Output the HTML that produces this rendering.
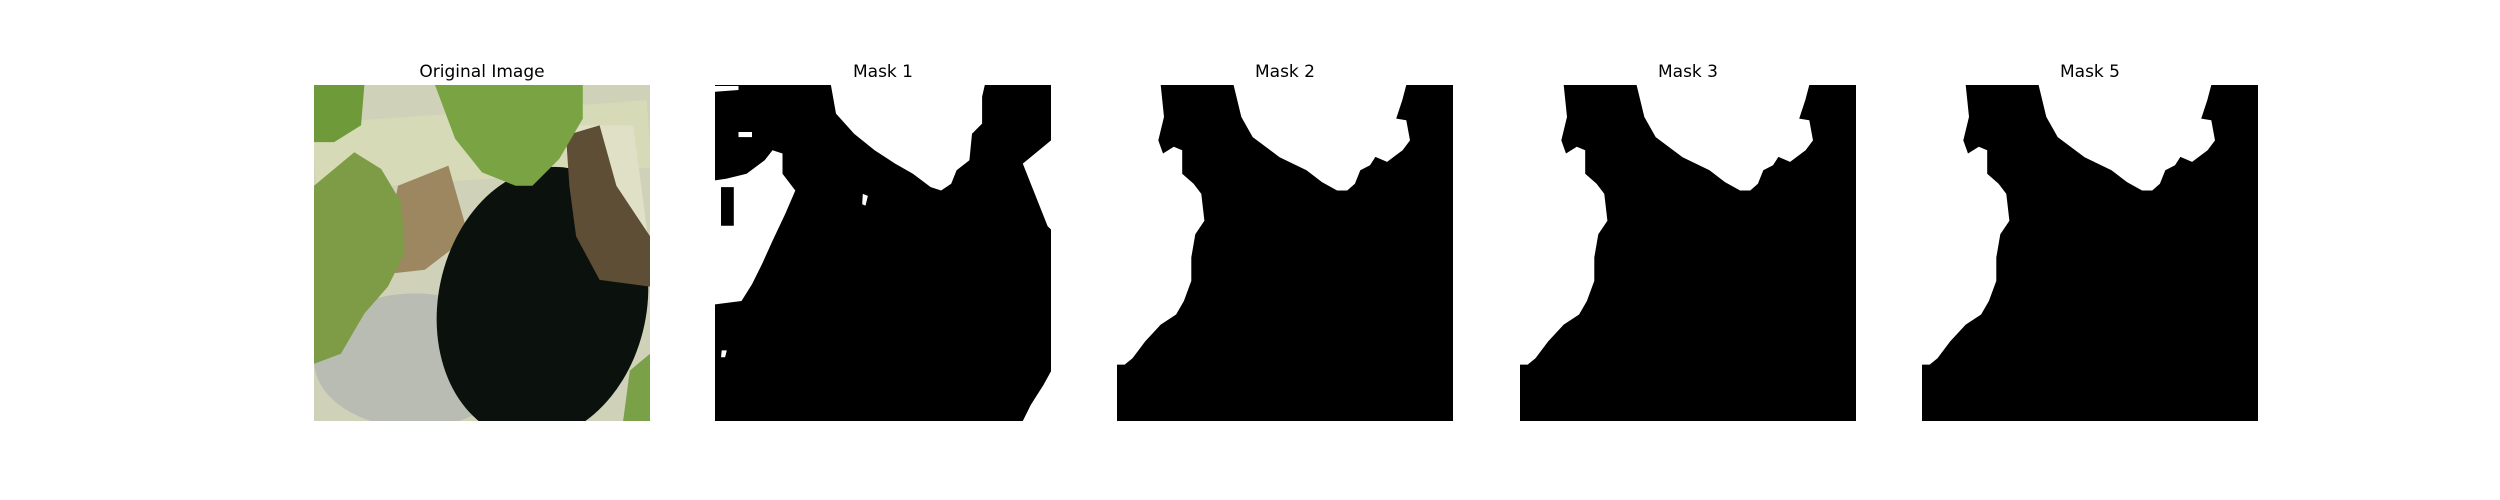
<!DOCTYPE html>
<html><head><meta charset="utf-8"><style>
html,body{margin:0;padding:0;background:#fff;}
svg{display:block;}
text{font-family:"DejaVu Sans","Liberation Sans",sans-serif;font-size:17px;fill:#000;}
</style></head><body>
<svg id="fig" width="2500" height="500" viewBox="0 0 2500 500">
  <rect width="2500" height="500" fill="#fff"/>
  <g>
    <text x="482" y="77" text-anchor="middle">Original Image</text>
    <svg x="314" y="85" width="336" height="336" viewBox="0 0 1 1" preserveAspectRatio="none">
      <rect width="1" height="1" fill="#cfd2b8"/>
      <ellipse cx="0.3" cy="0.82" rx="0.3" ry="0.2" fill="#b9bcb2"/>
      <rect x="0" y="0.08" width="1" height="0.2" fill="#d6dab6" transform="rotate(-4 0.5 0.2)"/>
      <polygon points="0.75,0.12 0.95,0.12 1,0.5 0.85,0.4" fill="#dfe0c6"/>
      <polygon points="0.25,0.3 0.4,0.24 0.46,0.45 0.33,0.55 0.24,0.56 0.22,0.45" fill="#9d8760"/>
      <ellipse cx="0.68" cy="0.65" rx="0.31" ry="0.41" fill="#0b120d" transform="rotate(12 0.68 0.65)"/>
      <polygon points="0.75,0.15 0.85,0.12 0.9,0.3 1,0.45 1,0.6 0.85,0.58 0.78,0.45 0.76,0.3" fill="#5f4e36"/>
      <polygon points="0,0 0.15,0 0.14,0.12 0.06,0.17 0,0.17" fill="#6f9a3a"/>
      <polygon points="0.36,0 0.8,0 0.8,0.1 0.73,0.22 0.65,0.3 0.6,0.3 0.5,0.26 0.42,0.16" fill="#7aa444"/>
      <polygon points="0,0.3 0.12,0.2 0.2,0.25 0.26,0.35 0.27,0.5 0.22,0.6 0.15,0.68 0.08,0.8 0,0.83" fill="#7e9c46"/>
      <polygon points="0.94,0.85 1,0.8 1,1 0.92,1" fill="#7aa048"/>
    </svg>
  </g>
  <g id="masks"></g>
</svg>
<script>
const maskTitles = ["Mask 1", "Mask 2", "Mask 3", "Mask 5"];
const panelX = [715, 1117, 1520, 1922];
const m1White = [
  [[0,.284],[.033,.279],[.094,.264],[.148,.224],[.171,.194],[.201,.204],[.201,.264],[.239,.314],[.209,.384],[.171,.464],[.140,.533],[.110,.593],[.079,.643],[0,.653]],
  [[.345,0],[.36,.085],[.414,.145],[.475,.194],[.536,.234],[.589,.264],[.642,.304],[.673,.314],[.703,.294],[.719,.254],[.757,.224],[.765,.145],[.795,.115],[.795,.035],[.803,0]],
  [[.916,.234],[.97,.19],[1,.165],[1,.43],[.99,.42]],
  [[1,.852],[.978,.892],[.94,.952],[.916,1],[1,1]],
  [[0,.003],[.07,.003],[.07,.015],[0,.02]],
  [[.07,.14],[.11,.14],[.11,.155],[.07,.155]],
  [[.44,.324],[.455,.33],[.448,.359],[.438,.355]],
  [[.02,.79],[.035,.79],[.03,.81],[.018,.81]]
];
const m1Black = [[[.018,.304],[.056,.304],[.056,.419],[.018,.419]]];
const m2White = [
  [[0,0],[.13,0],[.14,.095],[.123,.165],[.137,.204],[.169,.184],[.194,.194],[.194,.264],[.228,.294],[.251,.324],[.26,.404],[.233,.444],[.221,.513],[.221,.583],[.199,.643],[.176,.683],[.13,.713],[.084,.763],[.046,.813],[.023,.832],[0,.832]],
  [[.347,0],[.37,.095],[.404,.155],[.484,.215],[.564,.254],[.610,.289],[.655,.314],[.685,.314],[.708,.294],[.724,.254],[.753,.239],[.769,.214],[.804,.229],[.85,.194],[.872,.165],[.861,.105],[.831,.1],[.849,.045],[.861,0]]
];
const S = 336, Y0 = 85;
const ns = "http://www.w3.org/2000/svg";
const g = document.getElementById('masks');
function poly(parent, pts, x0, fill) {
  const p = document.createElementNS(ns, 'polygon');
  p.setAttribute('points', pts.map(q => (x0 + q[0]*S).toFixed(1) + ',' + (Y0 + q[1]*S).toFixed(1)).join(' '));
  p.setAttribute('fill', fill);
  parent.appendChild(p);
  return p;
}
maskTitles.forEach((t, i) => {
  const x0 = panelX[i];
  const pg = document.createElementNS(ns, 'g');
  
  
  g.appendChild(pg);
  const tt = document.createElementNS(ns, 'text');
  tt.setAttribute('x', x0 + S/2);
  tt.setAttribute('y', 77);
  tt.setAttribute('text-anchor', 'middle');
  tt.textContent = t;
  
  
  pg.appendChild(tt);
  const r = document.createElementNS(ns, 'rect');
  r.setAttribute('x', x0); r.setAttribute('y', Y0);
  r.setAttribute('width', S); r.setAttribute('height', S);
  r.setAttribute('fill', '#000');
  
  
  pg.appendChild(r);
  const whites = i === 0 ? m1White : m2White;
  whites.forEach(w => {
    const p = poly(pg, w, x0, '#fff');
    
    
  });
  if (i === 0) m1Black.forEach(b => {
    const p = poly(pg, b, x0, '#000');
    
    
  });
});
</script>
</body></html>
